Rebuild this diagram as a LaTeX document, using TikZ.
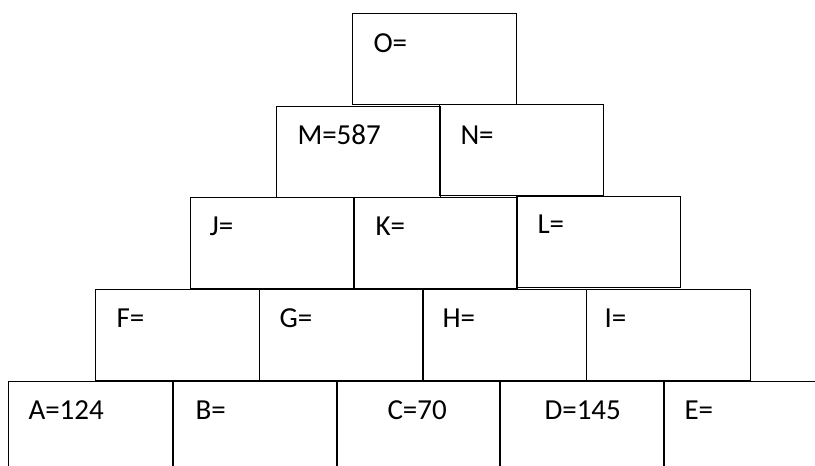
\documentclass[tikz,border=0pt]{standalone}
\usepackage{fontspec}
\setmainfont{Carlito}
\begin{document}
\begin{tikzpicture}[x=1pt,y=-1pt,line width=1pt,
        brick/.style={draw,rectangle,inner sep=0pt,anchor=north west,minimum width=164pt,minimum height=91pt},
        val/.style={anchor=base west,inner sep=0pt,font=\fontsize{29}{33}\selectfont}]
            % the page, bricks of the bottom row run past it
            \clip (0,0) rectangle (815,466);

            % top
            \node[brick] (o) at (352,13) {};

            % second row
            \node[brick] (m) at (276,106) {};
            \node[brick] (n) at (439,104) {};

            % third row
            \node[brick] (j) at (190,197) {};
            \node[brick] (k) at (353,197) {};
            \node[brick] (l) at (516,196) {};

            % fourth row
            \node[brick] (f) at (95,289) {};
            \node[brick] (g) at (259,289) {};
            \node[brick] (h) at (422,289) {};
            \node[brick] (i) at (586,289) {};

            % bottom row, open below
            \node[brick,minimum height=120pt] (a) at (8,381) {};
            \node[brick,minimum height=120pt] (b) at (173,381) {};
            \node[brick,minimum height=120pt] (c) at (336,381) {};
            \node[brick,minimum height=120pt] (d) at (499,381) {};
            \node[brick,minimum width=180pt,minimum height=120pt] (e) at (664,381) {};

            % the values in the bricks
            \node[val] (ot) at ([shift={(21,39)}]o.north west) {O=};
            \node[val] (mt) at ([shift={(21,38)}]m.north west) {M=587};
            \node[val] (nt) at ([shift={(21,40)}]n.north west) {N=};
            \node[val] (jt) at ([shift={(19,38)}]j.north west) {J=};
            \node[val] (kt) at ([shift={(22,38)}]k.north west) {K=};
            \node[val] (lt) at ([shift={(21,37)}]l.north west) {L=};
            \node[val] (ft) at ([shift={(21,38)}]f.north west) {F=};
            \node[val] (gt) at ([shift={(20,38)}]g.north west) {G=};
            \node[val] (ht) at ([shift={(20,38)}]h.north west) {H=};
            \node[val] (it) at ([shift={(18,38)}]i.north west) {I=};
            \node[val] (at) at ([shift={(20,38)}]a.north west) {A=124};
            \node[val] (bt) at ([shift={(22,38)}]b.north west) {B=};
            \node[val] (ct) at ([shift={(51,38)}]c.north west) {C=70};
            \node[val] (dt) at ([shift={(45,38)}]d.north west) {D=145};
            \node[val] (et) at ([shift={(20,38)}]e.north west) {E=};
        \end{tikzpicture}
\end{document}
